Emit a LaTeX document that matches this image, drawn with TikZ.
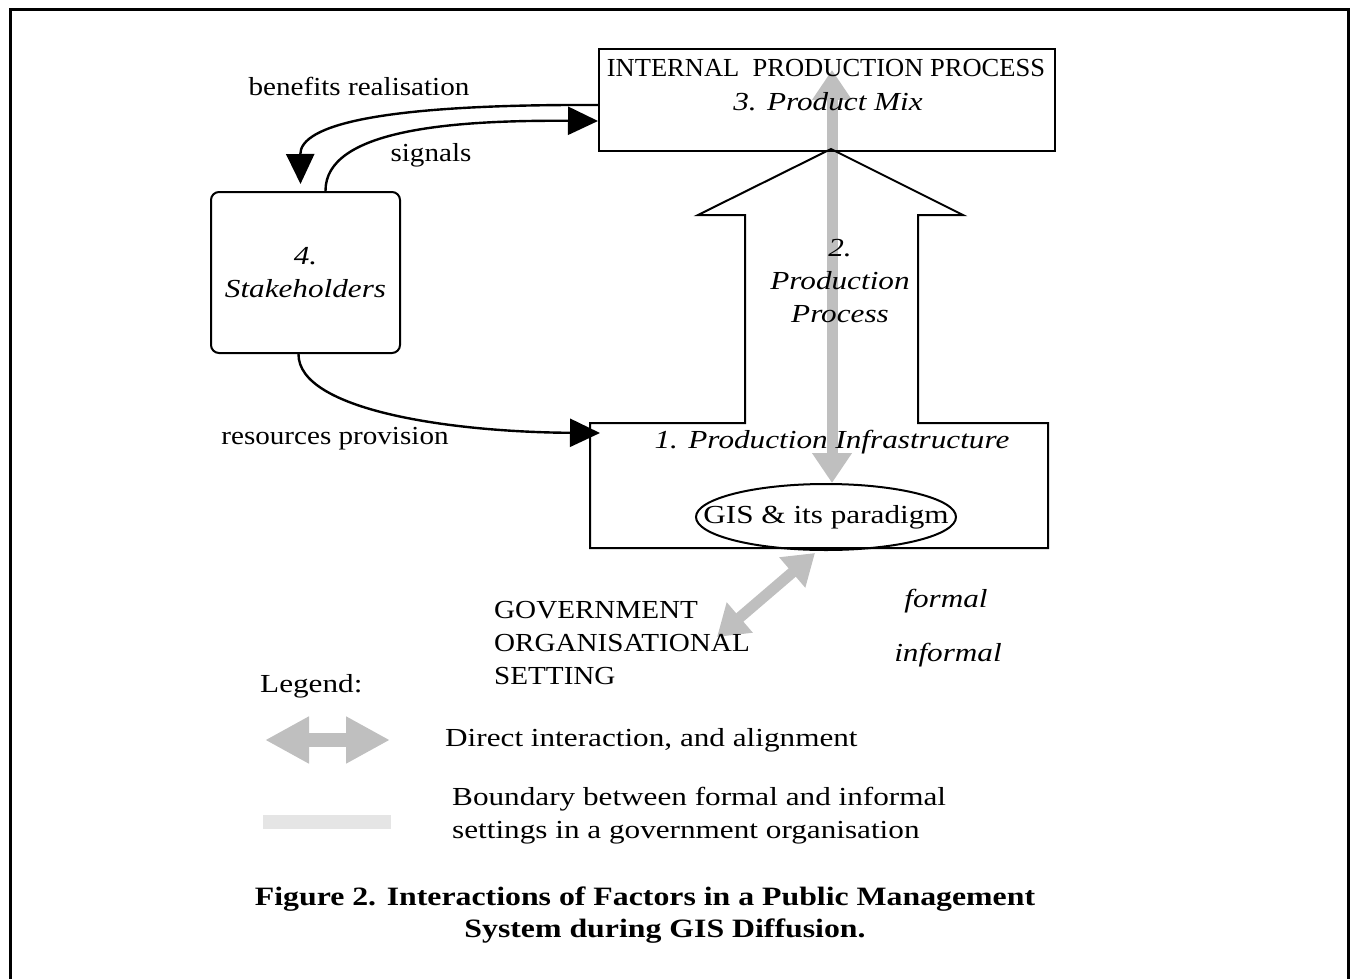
\documentclass[tikz,border=0pt]{standalone}
\usepackage{fontspec}
\setmainfont[FakeStretch=1.2]{Liberation Serif}
\newfontfamily\midserif[FakeStretch=1.12]{Liberation Serif}
\newfontfamily\plainserif[FakeStretch=1.02]{Liberation Serif}
\usetikzlibrary{arrows.meta,shapes.geometric,backgrounds}
\begin{document}
\begin{tikzpicture}[x=1pt,y=-1pt,
  lbl/.style={inner sep=0pt, font=\fontsize{26}{33}\selectfont},
  lblmid/.style={inner sep=0pt, font=\midserif\fontsize{26}{33}\selectfont},
  ital/.style={inner sep=0pt, font=\fontsize{26}{33}\selectfont\itshape},
  capt/.style={inner sep=0pt, font=\fontsize{26.5}{33}\selectfont\bfseries},
  flow/.style={line width=2.4pt, -{Triangle[length=30pt,width=28pt]}},
  align2/.style={draw=gray!50, line width=11pt, {Triangle[length=30pt,width=38pt]}-{Triangle[length=30pt,width=38pt]}}]
\useasboundingbox (0,0) rectangle (1351,979);
\draw[line width=3pt] (10,979) -- (10,10) -- (1348,10) -- (1348,979);

% boxes
\node[draw, line width=2pt, minimum width=456pt, minimum height=102pt, anchor=north west, inner sep=0pt] (mix) at (598,48) {};
\node[inner sep=0pt, font=\plainserif\fontsize{26}{33}\selectfont] (mixtitle) at (826,68) {INTERNAL\ \ PRODUCTION PROCESS};
\node[ital] (mixname) at (828,102) {3. Product Mix};
\node[ital, draw, rounded corners=8pt, line width=2pt, minimum width=189pt, minimum height=161pt, align=center] (stake) at (305.5,272.5) {4.\\Stakeholders};

% production arrow and infrastructure
\draw[line width=2pt] (590,548) -- (590,423) -- (745,423) -- (745,215) -- (698,215) -- (831,149)
  -- (963,215) -- (918,215) -- (918,423) -- (1048,423) -- (1048,548) -- cycle;
\node[ital, align=center] (process) at (840,281) {2.\\Production\\Process};
\node[ital] (infra) at (832,442) {1. Production Infrastructure};
\node[lbl, ellipse, draw, line width=2pt, minimum width=260pt, minimum height=66pt, inner xsep=-32pt, inner ysep=0pt] (gis) at (826,517) {GIS \& its paradigm};
\coordinate (infraW) at (600,433);

% alignment arrows
\coordinate (mixtip) at (832,70);
\coordinate (govtip) at (717,637);
\begin{scope}[on background layer]
\draw[align2] (mixtip) -- (mixtip |- gis.north);
\draw[align2] ([xshift=-11pt,yshift=-2pt]gis.south) -- (govtip);
\end{scope}

% flows
\draw[flow] ([yshift=-5pt]mix.west) .. controls (380,104) and (300,125) .. ([xshift=-5pt,yshift=7pt]stake.north);
\draw[flow] ([xshift=20pt]stake.north) .. controls (325,130) and (450,120) .. ([yshift=-21pt]mix.west);
\draw[flow] ([xshift=-7pt]stake.south) .. controls (298,410) and (450,432) .. (infraW);
\node[lblmid] (benefits) at (359,86) {benefits realisation};
\node[lblmid] (signals) at (431,155) {signals};
\node[lblmid] (resources) at (335,439) {resources provision};

% setting
\node[lblmid, align=left, anchor=west] (gov) at (494,643) {GOVERNMENT\\ORGANISATIONAL\\SETTING};
\node[ital] (formal) at (946,601) {formal};
\node[ital] (informal) at (948,655) {informal};

% legend
\node[lbl, anchor=west] (legend) at (260,686) {Legend:};
\coordinate (legA) at (265,740);
\coordinate (legB) at (390,740);
\draw[draw=gray!50, line width=14pt, {Triangle[length=44pt,width=44pt]}-{Triangle[length=44pt,width=44pt]}] (legA) -- (legB);
\node[lbl, anchor=west] (legtxtA) at (445,740) {Direct interaction, and alignment};
\coordinate (legC) at (263,822);
\coordinate (legD) at (391,822);
\draw[gray!20, line width=14pt] (legC) -- (legD);
\node[lbl, anchor=west, align=left] (legtxtB) at (452,816) {Boundary between formal and informal\\settings in a government organisation};

% caption
\node[capt] (captionA) at (645,899) {Figure 2. Interactions of Factors in a Public Management};
\node[capt] (captionB) at (665,931) {System during GIS Diffusion.};
\end{tikzpicture}
\end{document}
